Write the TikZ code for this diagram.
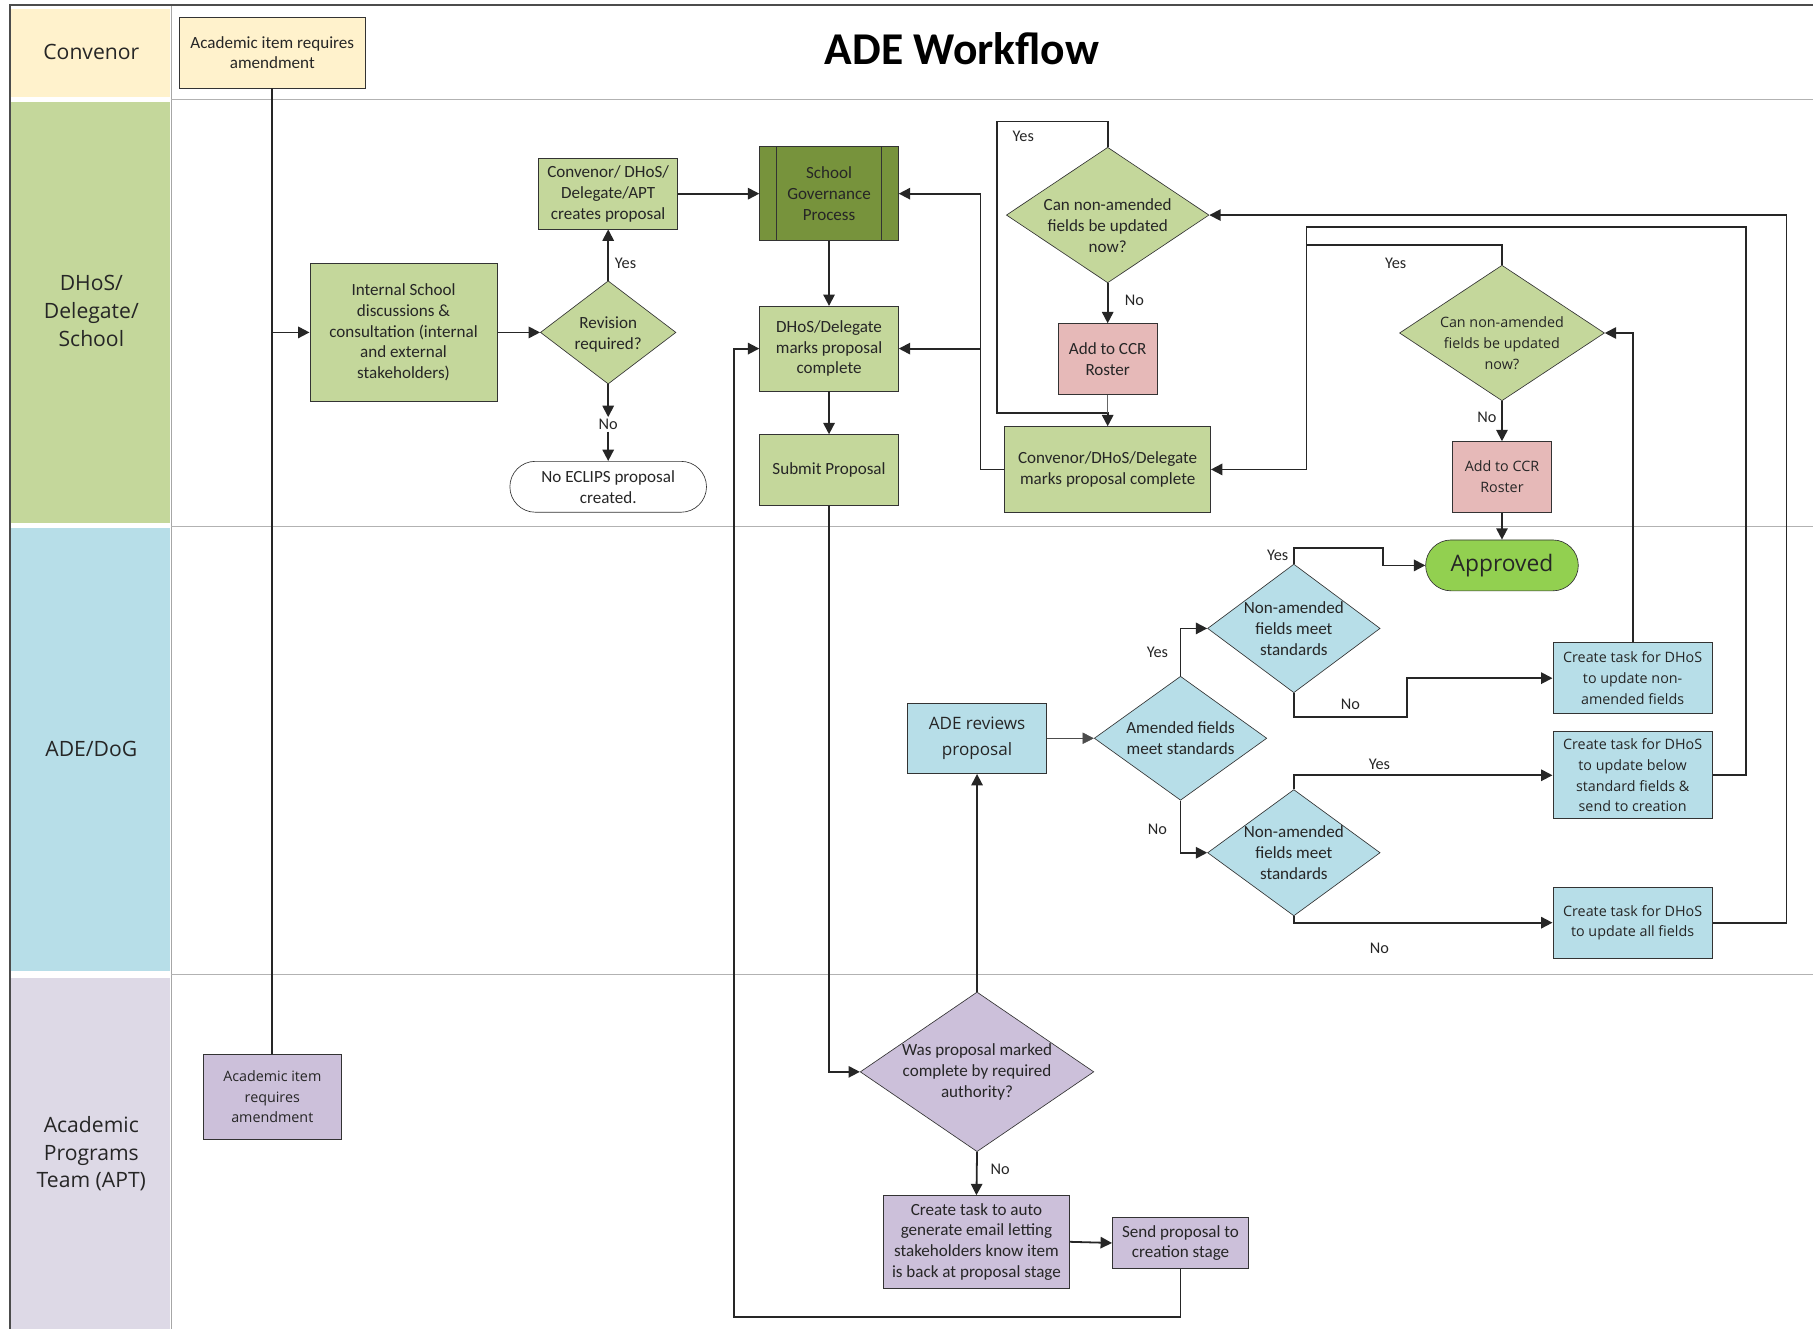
\documentclass[tikz,border=0pt]{standalone}
\usepackage{fontspec}
\setmainfont{Carlito}
\newfontfamily\segoe{Open Sans}
\usetikzlibrary{shapes.geometric,arrows.meta}

\definecolor{convyel}{HTML}{FFF2CC}
\definecolor{lanegreen}{HTML}{C4D79B}
\definecolor{govgreen}{HTML}{77933C}
\definecolor{laneblue}{HTML}{B7DEE8}
\definecolor{lanelav}{HTML}{DDD9E6}
\definecolor{boxlav}{HTML}{CCC0DA}
\definecolor{ccrpink}{HTML}{E6B9B8}
\definecolor{okgreen}{HTML}{92D050}

\begin{document}
\begin{tikzpicture}[x=0.025cm, y=-0.025cm, >={Triangle[length=7pt,width=7pt]},
		box/.style={rectangle, draw=black!80, text=black!85, align=center, inner sep=1pt, font=\fontsize{10.5}{12.8}\selectfont},
		box2/.style={box, font=\segoe\fontsize{8.8}{12.8}\selectfont},
		dec/.style={diamond, draw=black!80, inner sep=0pt},
		term/.style={box, rounded corners=0.55cm},
		lbl/.style={font=\fontsize{10}{12}\selectfont, text=black!85, inner sep=1pt},
		dectext/.style={align=center, text=black!85, font=\fontsize{10.5}{12.8}\selectfont},
		dectext2/.style={dectext, font=\segoe\fontsize{8.8}{12.8}\selectfont},
		lane/.style={font=\segoe\fontsize{13}{17}\selectfont, align=center, text=black!85},
		link/.style={line width=1.1pt, black!85}]
	\useasboundingbox (0,0) rectangle (1568,1149);
	% lanes
	\fill[convyel] (9,8) rectangle (147,84);
	\fill[lanegreen] (9,88) rectangle (147,452);
	\fill[laneblue] (9,457) rectangle (147,840);
	\fill[lanelav] (9,846) rectangle (147,1149);
	\draw[black!35] (148,4) -- (148,1149);
	\foreach \y in {86,455,843} {
	   \draw[black!30] (148,\y) -- (1568,\y);
	   }
	\draw[black!70, line width=1.2pt] (9,1149) -- (9,4) -- (1568,4);
	\node[lane] (l1) at (79,45) {Convenor};
	\node[lane] (l2) at (79,269) {DHoS/\\Delegate/\\School};
	\node[lane] (l3) at (79,648) {ADE/DoG};
	\node[lane] (l4) at (79,998) {Academic\\Programs\\Team (APT)};
	\node[font=\bfseries\fontsize{28}{30}\selectfont] (t) at (832,42) {ADE Workflow};
	% nodes
	\node[box, fill=convyel, minimum width=4.03cm, minimum height=1.53cm] (1) at (235.5,45.5) {Academic item requires\\amendment};
	\node[box, fill=lanegreen, minimum width=4.05cm, minimum height=2.98cm] (2) at (349,287.5) {Internal School\\discussions \&\\consultation (internal\\and external\\stakeholders)};
	\node[dec, fill=lanegreen, minimum width=2.93cm, minimum height=2.23cm, label={[dectext, yshift=-0.05cm]center:Revision\\required?}] (3) at (526,287.5) {};
	\node[box, fill=lanegreen, minimum width=3cm, minimum height=1.53cm] (4) at (526,167.5) {Convenor/ DHoS/\\Delegate/APT\\creates proposal};
	\node[term, fill=white, minimum width=4.25cm, minimum height=1.1cm] (5) at (526,421) {No ECLIPS proposal\\created.};
	\node[box, fill=govgreen, minimum width=3cm, minimum height=2.03cm] (6) at (717,167.5) {School\\Governance\\Process};
	\draw[black!80] ([xshift=0.375cm]6.north west) -- ([xshift=0.375cm]6.south west);
	\draw[black!80] ([xshift=-0.375cm]6.north east) -- ([xshift=-0.375cm]6.south east);
	\node[box, fill=lanegreen, minimum width=3cm, minimum height=1.83cm] (7) at (717,301.5) {DHoS/Delegate\\marks proposal\\complete};
	\node[box, fill=lanegreen, minimum width=3cm, minimum height=1.53cm] (8) at (717,406.5) {Submit Proposal};
	\node[dec, fill=lanegreen, minimum width=4.38cm, minimum height=2.93cm, label={[dectext, yshift=-0.225cm]center:Can non-amended\\fields be updated\\now?}] (9) at (958,186) {};
	\node[box, fill=ccrpink, minimum width=2.15cm, minimum height=1.53cm] (10) at (958,310.5) {Add to CCR\\Roster};
	\node[box, fill=lanegreen, minimum width=4.45cm, minimum height=1.85cm] (11) at (958,406) {Convenor/DHoS/Delegate\\marks proposal complete};
	\node[dec, fill=lanegreen, minimum width=4.43cm, minimum height=2.93cm, label={[dectext2, yshift=-0.225cm]center:Can non-amended\\fields be updated\\now?}] (12) at (1299,288) {};
	\node[box2, fill=ccrpink, minimum width=2.15cm, minimum height=1.53cm] (13) at (1299,412.5) {Add to CCR\\Roster};
	\node[term, fill=okgreen, font=\segoe\fontsize{14}{16}\selectfont, minimum width=3.3cm, minimum height=1.1cm] (14) at (1299,489) {Approved};
	\node[dec, fill=laneblue, minimum width=3.73cm, minimum height=2.78cm, label={[dectext]center:Non-amended\\fields meet\\standards}] (15) at (1119,543.5) {};
	\node[dec, fill=laneblue, minimum width=3.73cm, minimum height=2.68cm, label={[dectext]center:Amended fields\\meet standards}] (16) at (1021,638.5) {};
	\node[dec, fill=laneblue, minimum width=3.73cm, minimum height=2.73cm, label={[dectext]center:Non-amended\\fields meet\\standards}] (17) at (1119,737.5) {};
	\node[box2, fill=laneblue, font=\segoe\fontsize{10.5}{15.5}\selectfont, minimum width=3cm, minimum height=1.53cm] (18) at (845,638.5) {ADE reviews\\proposal};
	\node[box2, fill=laneblue, minimum width=3.45cm, minimum height=1.53cm] (19) at (1412,586.5) {Create task for DHoS\\to update non-\\amended fields};
	\node[box2, fill=laneblue, minimum width=3.45cm, minimum height=1.88cm] (20) at (1412,670.5) {Create task for DHoS\\to update below\\standard fields \&\\send to creation};
	\node[box2, fill=laneblue, minimum width=3.45cm, minimum height=1.55cm] (21) at (1412,798) {Create task for DHoS\\to update all fields};
	\node[box2, fill=boxlav, minimum width=2.98cm, minimum height=1.83cm] (22) at (235.5,948.5) {Academic item\\requires\\amendment};
	\node[dec, fill=boxlav, minimum width=5.05cm, minimum height=3.45cm, label={[dectext]center:Was proposal marked\\complete by required\\authority?}] (23) at (845,927) {};
	\node[box, fill=boxlav, minimum width=4.03cm, minimum height=2cm] (24) at (844.5,1074) {Create task to auto\\generate email letting\\stakeholders know item\\is back at proposal stage};
	\node[box, fill=boxlav, minimum width=2.95cm, minimum height=1.1cm] (25) at (1021,1075) {Send proposal to\\creation stage};
	% labels
	\node[lbl] (y1) at (541,228) {Yes};
	\node[lbl, fill=white] (n1) at (526,367) {No};
	\node[lbl] (y2) at (885,118) {Yes};
	\node[lbl] (n2) at (981,260) {No};
	\node[lbl] (y3) at (1207,228) {Yes};
	\node[lbl] (n3) at (1286,361) {No};
	\node[lbl] (y4) at (1105,480) {Yes};
	\node[lbl] (y5) at (1001,564) {Yes};
	\node[lbl] (n4) at (1001,717) {No};
	\node[lbl] (n5) at (1168,609) {No};
	\node[lbl] (y6) at (1193,661) {Yes};
	\node[lbl] (n6) at (1193,820) {No};
	\node[lbl] (n7) at (865,1011) {No};
	% connectors
	\draw[link] (1.south) -- (22.north);
	\draw[link, ->] (1.south |- 2.west) -- (2.west);
	\draw[link, ->] (2.east) -- (3.west);
	\draw[link, ->] (3.north) -- (4.south);
	\draw[link, ->] (3.south) -- (n1);
	\draw[link, ->] (n1) -- (5.north);
	\draw[link, ->] (4.east) -- (6.west);
	\draw[link, ->] (6.south) -- (7.north);
	\draw[link, ->] (7.south) -- (8.north);
	\draw[link, ->] (8.south) |- (23.west);
	\draw[link, ->] (23.north) -- (18.south);
	\draw[link, ->] (23.south) -- (24.north);
	\draw[link, ->] (24.east) -- (25.west);
	\draw[link, ->] (25.south) |- (635,1139) |- (7.west);
	\draw[black!70, ->] (18.east) -- (16.west);
	\draw[link, ->] (16.north) |- (15.west);
	\draw[link, ->] (16.south) |- (17.west);
	\draw[link, ->] (15.north) |- (1196,474) |- (14.west);
	\draw[link, ->] (15.south) |- (1217,620) |- (19.west);
	\draw[link, ->] (17.north) |- (20.west);
	\draw[link, ->] (17.south) |- (21.west);
	\draw[link, ->] (19.north) |- (12.east);
	\draw[link, ->] (20.east) -| (1510,196) -| (1130,406) -- (11.east);
	\draw[link] (12.north) |- (1130,212);
	\draw[link, ->] (21.east) -| (1545,186) -- (9.east);
	\draw[link, ->] (12.south) -- (13.north);
	\draw[link, ->] (13.south) -- (14.north);
	\draw[link, ->] (9.north) |- (862,105) |- (958,357) -- (11.north);
	\draw[link, ->] (9.south) -- (10.north);
	\draw[black!60] (10.south) -- (958,357);
	\draw[link, ->] (11.west) -| (848,167.5) -- (6.east);
	\coordinate (j1) at (848,301.5);
	\draw[link, ->] (j1) -- (7.east);
\end{tikzpicture}
\end{document}
